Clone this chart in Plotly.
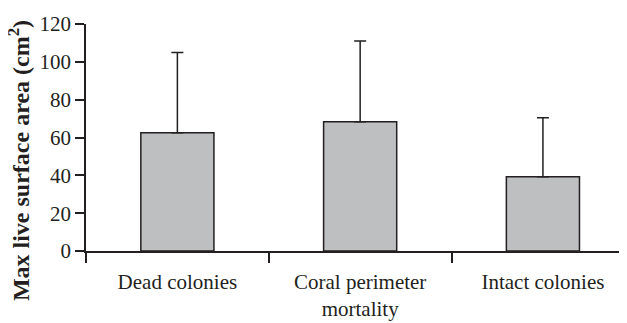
import plotly.graph_objects as go

categories = ["Dead colonies", "Coral perimeter<br>mortality", "Intact colonies"]
means = [62.5, 68.3, 39.2]
sd_plus = [42.5, 42.7, 31.3]
y_ticks = [0, 20, 40, 60, 80, 100, 120]
y_title = "<b>Max live surface area (cm<sup>2</sup>)</b>"

ink = "#231f20"
fig = go.Figure(go.Bar(
    x=categories, y=means, width=0.4,
    marker=dict(color="#bebfc1", line=dict(color=ink, width=1.5)),
    error_y=dict(type="data", array=sd_plus, symmetric=False, arrayminus=[0, 0, 0],
                 color=ink, thickness=1.5, width=6),
))
font = "Liberation Serif, Times New Roman, serif"
fig.update_layout(
    width=627, height=323,
    margin=dict(l=78, r=8, t=16, b=80),
    plot_bgcolor="white", paper_bgcolor="white",
    showlegend=False,
    font=dict(family=font, size=21, color=ink),
)
fig.update_xaxes(
    range=[-0.5, 2.46], showline=True, linecolor=ink, linewidth=1.5,
    ticks="outside", tickson="boundaries", ticklen=10, tickwidth=1.5, tickcolor=ink,
    tickfont=dict(size=21, family=font, color=ink), showgrid=False, automargin=False,
    ticklabelstandoff=11,
)
fig.update_yaxes(
    range=[0, 120], tickvals=y_ticks, showline=True, linecolor=ink, linewidth=1.5,
    ticks="outside", ticklen=9, tickwidth=1.5, tickcolor=ink,
    tickfont=dict(size=21, family=font, color=ink), showgrid=False, zeroline=False,
    automargin=False,
)
fig.add_annotation(
    text=y_title, textangle=-90, xref="paper", yref="paper",
    x=-0.124, y=0.40, xanchor="center", yanchor="middle", showarrow=False,
    font=dict(size=24, family=font, color=ink),
)
fig.write_html("out.html")
